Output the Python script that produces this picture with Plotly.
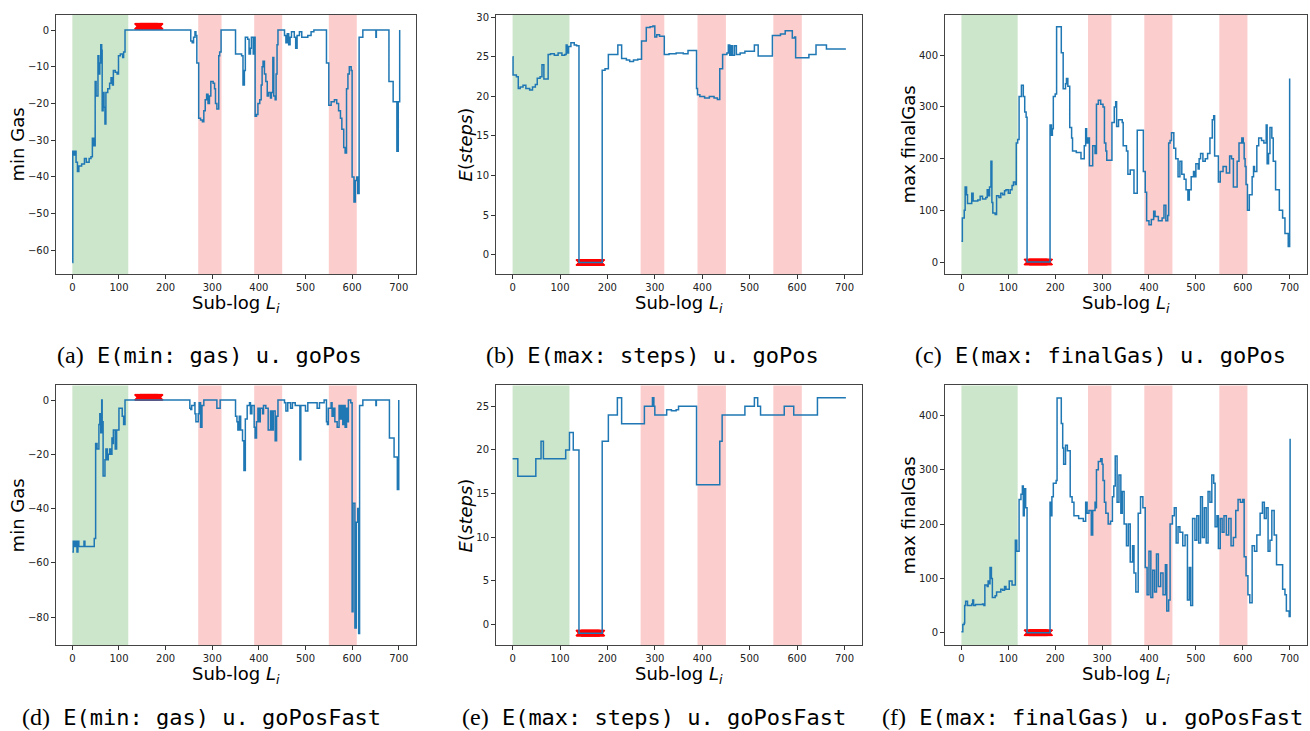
import plotly.graph_objects as go

W, H = 1310, 731

# ---------------- data ----------------
a_pts = [(0,-63.3),(1,-33),(4,-34),(6,-33),(8,-36),(11,-38.5),(14,-37),(20,-36.5),(26,-35),(30,-36),(36,-35),(40,-34.5),(43,-29.5),(46,-31.5),(49,-14),(51,-18),(55,-7),(57,-12),(59,-9),(61,-4),(63,-5.5),(64,-22),(66,-17),(68,-21),(70,-25.6),(72,-17),(76,-16),(80,-14.5),(83,-13),(86,-15),(88,-11),(92,-11.5),(96,-12),(99,-7),(103,-6.5),(108,-7.5),(110,-6),(113,0),(254,-3),(257,-3.5),(260,-2),(263,-0.5),(265,-1.5),(267,-9),(271,-24),(275,-24.5),(279,-25),(282,-22),(285,-19),(288,-17.5),(291,-20),(294,-18),(297,-14),(302,-14.5),(305,-16),(307,-20),(310,-21.5),(314,-7),(316,-6),(319,0),(350,-6.5),(360,-6.5),(363,-7),(366,-15),(369,-11),(371,-2),(376,-2.5),(379,-6.5),(382,-5),(384,-2),(388,-6.5),(390,-2),(392,-23.5),(395,-23),(398,-20),(402,-19),(405,-15),(407,-10),(409,-8.5),(412,-12),(415,-14),(418,-18),(421,-17),(425,-18.5),(427,-17),(430,-7.5),(432,-18),(435,-19),(437,-12),(439,-4),(441,0),(455,-1.5),(458,-3.5),(461,-1),(464,-4),(467,-2),(470,-0.5),(476,-2),(479,-5),(482,-1.5),(487,-0.5),(492,-2),(500,-2),(505,-1.5),(512,-0.5),(518,0),(545,-9),(550,-20.5),(555,-19.5),(562,-19),(567,-20),(571,-22),(575,-24),(578,-27),(582,-32),(585,-33.5),(588,-16),(591,-12),(594,-10),(598,-11),(600,-40),(604,-46.8),(607,-41),(610,-40),(612,-44.5),(615,-2),(623,0),(651,-2),(652,0),(679,-14),(688,-19.5),(696,-33),(699,-19.5),(702,0)]

b_pts = [(0,25),(1,22.7),(8,22.5),(12,21),(16,21.2),(22,21.4),(28,21),(36,20.8),(42,21.2),(48,21.5),(52,22.3),(58,22.5),(62,24),(66,22.2),(75,25.3),(80,25.4),(88,25.2),(96,25.5),(104,25.2),(110,25.3),(113,26.5),(115,25.5),(118,26.3),(123,26.8),(130,26.5),(135,26.4),(140,-1),(189,23.3),(195,23.5),(202,25.3),(210,25.3),(222,26.5),(230,24.8),(240,24.6),(247,24.4),(255,24.6),(264,24.7),(272,27),(282,28.7),(290,28.8),(296,28.9),(300,27.5),(304,27.8),(310,27.6),(320,25.3),(330,25.4),(345,25.5),(360,25.4),(370,25.8),(388,21),(390,20.2),(395,20),(405,19.8),(415,20),(425,19.8),(432,19.6),(437,23.5),(443,25.3),(452,25.5),(455,26.5),(458,25.2),(461,26.4),(464,25.2),(468,26.4),(472,25.3),(480,25.5),(490,25.7),(505,25.7),(510,26.5),(518,25.1),(548,27.7),(565,27.9),(575,28.3),(590,27.4),(595,27.5),(597,24.9),(615,24.9),(625,25.3),(640,26.5),(662,26.0),(703,26.0)]

c_pts = [(0,40),(2,85),(6,100),(8,145),(11,130),(13,113),(22,133),(25,118),(35,120),(40,127),(45,122),(52,125),(55,140),(57,128),(60,145),(63,195),(65,115),(67,95),(72,92),(75,128),(80,125),(84,133),(88,130),(92,138),(95,140),(100,133),(104,140),(108,148),(111,155),(115,150),(117,230),(120,237),(123,320),(128,342),(132,320),(135,290),(138,280),(140,0),(189,265),(192,245),(194,258),(196,320),(200,325),(203,455),(213,405),(217,335),(222,345),(224,355),(227,340),(231,260),(235,240),(237,215),(245,212),(255,200),(262,225),(265,258),(267,230),(270,240),(273,186),(280,225),(285,210),(288,305),(292,313),(297,305),(302,300),(305,230),(308,215),(310,197),(321,270),(326,300),(329,310),(331,262),(335,275),(343,270),(345,225),(352,215),(355,170),(360,178),(368,133),(375,255),(385,255),(388,175),(392,135),(395,80),(400,72),(405,82),(410,98),(413,88),(420,80),(428,85),(432,110),(436,80),(440,90),(442,230),(445,235),(448,250),(453,220),(457,200),(462,165),(466,195),(470,170),(475,160),(479,140),(483,120),(486,140),(490,165),(495,175),(498,165),(500,190),(505,180),(507,200),(510,210),(515,195),(520,200),(525,210),(530,240),(535,275),(538,283),(540,205),(548,155),(552,175),(558,185),(565,172),(572,205),(576,200),(580,145),(588,195),(592,230),(598,240),(601,230),(603,200),(605,185),(607,150),(610,100),(614,130),(620,165),(623,185),(625,175),(630,225),(634,240),(640,235),(645,230),(650,265),(652,190),(655,210),(658,260),(662,240),(665,195),(670,140),(678,100),(685,85),(690,55),(697,30),(700,355)]

d_pts = [(0,-56),(2,-52),(5,-54),(7,-52),(10,-56),(12,-52),(14,-54),(25,-52),(27,-54),(47,-51),(50,-16),(53,-18),(57,-9),(59,-5),(61,-12),(63,0),(64,-8),(66,-28),(70,-22),(72,-18),(75,-22),(77,-20),(80,-18),(82,-20),(85,-14),(87,-16),(88,-11),(92,-18),(95,-11),(100,-3),(105,-3),(107,-6),(110,-9),(113,0),(252,-3),(254,-3.5),(256,-2),(262,-1),(263,-5),(265,-8),(270,-5),(272,-1),(275,-10),(278,-2),(282,0),(310,-3),(317,0),(350,-6),(353,-8),(355,-11),(358,-6),(361,-11),(365,-15),(368,-26),(371,-7),(375,-2),(380,-1),(382,-5),(385,-2),(390,-10),(392,-14),(395,-8),(398,-3),(400,-8),(403,-3),(408,-5),(410,-2),(415,-3),(420,-11),(425,-4),(428,-11),(431,-4),(435,-15),(438,-6),(441,0),(455,-1),(458,-4),(462,-1),(468,-3),(472,-1),(478,-2),(488,-22),(490,-2),(498,-2),(500,-4),(505,-1),(520,-1),(525,-3),(530,-1),(540,0),(545,-8),(547,-9),(549,-3),(555,-1),(557,-6),(560,-3),(563,-8),(568,-10),(572,-2),(575,-7),(578,-2),(580,-9),(583,-2),(585,-10),(588,-3),(590,-8),(592,0),(597,-1),(600,-78),(602,-38),(606,-84),(609,-45),(612,-40),(614,-86),(616,-2),(623,0),(651,-2),(652,0),(680,-14),(690,-21),(697,-33),(700,0)]

e_pts = [(0,19),(11,17),(49,19),(60,21),(65,19),(112,20),(120,22),(128,20),(140,-1),(189,21),(202,24),(221,26),(230,23),(278,25),(295,26),(298,25),(300,24),(325,24.6),(335,24.5),(345,24.6),(350,25),(388,16),(437,21),(442,24),(490,25),(510,26),(517,25),(523,24),(573,25),(593,24),(643,26),(703,26)]

f_pts = [(0,2),(3,15),(6,18),(7,50),(9,58),(13,50),(20,50),(22,53),(24,60),(26,50),(30,52),(40,52),(45,53),(48,50),(50,88),(55,85),(57,95),(58,90),(61,120),(64,100),(66,65),(72,68),(75,75),(80,75),(84,80),(88,78),(92,85),(95,80),(102,95),(108,88),(115,170),(118,150),(123,245),(127,255),(130,270),(132,215),(134,265),(137,230),(140,0),(189,240),(191,215),(193,250),(196,275),(202,280),(204,432),(213,385),(216,340),(218,310),(222,345),(226,335),(232,250),(236,240),(240,215),(250,210),(260,205),(265,240),(268,220),(272,225),(277,180),(280,225),(285,240),(286,230),(288,300),(292,315),(297,320),(300,310),(302,280),(305,240),(308,220),(313,200),(318,205),(322,250),(325,270),(328,325),(332,240),(336,290),(340,220),(343,260),(347,200),(352,160),(356,200),(360,130),(365,160),(368,110),(372,75),(377,220),(382,250),(387,230),(392,120),(396,70),(400,150),(404,65),(408,115),(412,75),(416,145),(420,85),(425,110),(430,70),(435,125),(438,40),(442,60),(445,200),(450,215),(454,230),(458,165),(462,195),(466,185),(472,160),(477,180),(482,60),(486,120),(489,50),(493,210),(498,170),(502,215),(506,165),(510,250),(514,175),(518,230),(522,165),(526,260),(530,240),(534,290),(538,275),(541,195),(545,215),(548,155),(552,210),(556,185),(560,215),(565,180),(570,210),(575,160),(580,175),(585,225),(590,245),(595,240),(600,245),(603,140),(607,105),(611,70),(615,55),(620,160),(625,150),(630,180),(637,220),(642,240),(646,210),(650,230),(654,150),(658,170),(662,225),(667,180),(672,125),(680,125),(685,80),(690,70),(693,40),(699,30),(701,357)]

# sub-logs flagged with the red marker band
flag_first, flag_last = 140, 188
flag_levels = [1.0, -1.0, 0.0, 1.0, -1.0, 0.0]

green_span = (0, 120)
red_spans = [(270, 320), (390, 450), (550, 610)]

x_ticks = [0, 100, 200, 300, 400, 500, 600, 700]
y_ticks = [
    [0, -10, -20, -30, -40, -50, -60],
    [0, 5, 10, 15, 20, 25, 30],
    [0, 100, 200, 300, 400],
    [0, -20, -40, -60, -80],
    [0, 5, 10, 15, 20, 25],
    [0, 100, 200, 300, 400],
]
y_ranges = [[-66.4, 4.1], [-2.44, 30.3], [-23, 478], [-90.4, 5.4], [-2.4, 27.4], [-23.2, 455]]
y_titles = ["min Gas", "<i>E</i>(<i>steps</i>)", "max finalGas",
            "min Gas", "<i>E</i>(<i>steps</i>)", "max finalGas"]
cap_labels = ["(a)", "(b)", "(c)", "(d)", "(e)", "(f)"]
cap_texts = ["E(min: gas) u. goPos", "E(max: steps) u. goPos", "E(max: finalGas) u. goPos",
             "E(min: gas) u. goPosFast", "E(max: steps) u. goPosFast", "E(max: finalGas) u. goPosFast"]
x_title = "Sub-log <i>L</i><sub><i>i</i></sub>"

series = [a_pts, b_pts, c_pts, d_pts, e_pts, f_pts]

# ---------------- layout geometry (pixels) ----------------
cols = [(56, 416), (496, 862), (945, 1307)]
rows = [(12, 272), (384, 645)]
ytitle_x = [17, 465, 908]
xtitle_y = [302, 675]
cap_y = [353, 717]
cap_x = [55, 484, 913, 20, 460, 880]

BLUE = "#1f77b4"
fig = go.Figure()
layout = dict(width=W, height=H, margin=dict(l=0, r=0, t=0, b=0),
              paper_bgcolor="white", plot_bgcolor="white", showlegend=False,
              shapes=[], annotations=[])

flag_x = list(range(flag_first, flag_last + 1))

for i, pts in enumerate(series):
    r, c = divmod(i, 3)
    n = "" if i == 0 else str(i + 1)
    xa, ya = "x" + n, "y" + n
    x0p, x1p = cols[c]
    t, b = rows[r]
    layout["xaxis" + n] = dict(
        domain=[x0p / W, x1p / W], anchor=ya, range=[-35, 737],
        tickvals=x_ticks, ticks="outside", ticklen=4, tickcolor="#333",
        showline=True, linecolor="#444", linewidth=1, mirror=True,
        showgrid=False, zeroline=False,
        tickfont=dict(family="DejaVu Sans", size=10, color="#222"))
    layout["yaxis" + n] = dict(
        domain=[1 - b / H, 1 - t / H], anchor=xa, range=y_ranges[i],
        tickvals=y_ticks[i], ticks="outside", ticklen=4, tickcolor="#333",
        showline=True, linecolor="#444", linewidth=1, mirror=True,
        showgrid=False, zeroline=False,
        tickfont=dict(family="DejaVu Sans", size=10, color="#222"))
    # shaded regions
    layout["shapes"].append(dict(type="rect", xref=xa, yref=ya + " domain",
                                 x0=green_span[0], x1=green_span[1], y0=0, y1=1,
                                 fillcolor="rgba(0,128,0,0.2)", line=dict(width=0), layer="below"))
    for s0, s1 in red_spans:
        layout["shapes"].append(dict(type="rect", xref=xa, yref=ya + " domain",
                                     x0=s0, x1=s1, y0=0, y1=1,
                                     fillcolor="rgba(240,60,60,0.26)", line=dict(width=0), layer="below"))
    # red flag markers
    fig.add_trace(go.Scatter(x=flag_x, y=[flag_levels[i]] * len(flag_x), mode="markers",
                             marker=dict(symbol="x-thin", size=6, color="red",
                                         line=dict(width=1.6, color="red")),
                             xaxis=xa, yaxis=ya, hoverinfo="skip"))
    xs = [p[0] for p in pts]
    ys = [p[1] for p in pts]
    fig.add_trace(go.Scatter(x=xs, y=ys, mode="lines", line=dict(color=BLUE, width=1.5, shape="hv"),
                             xaxis=xa, yaxis=ya))
    # axis titles
    layout["annotations"].append(dict(
        text=y_titles[i], xref="paper", yref="paper", x=ytitle_x[c] / W, y=1 - (t + b) / 2 / H,
        textangle=-90, showarrow=False, xanchor="center", yanchor="middle",
        font=dict(family="DejaVu Sans", size=18, color="black")))
    layout["annotations"].append(dict(
        text=x_title, xref="paper", yref="paper", x=(x0p + x1p) / 2 / W, y=1 - xtitle_y[r] / H,
        showarrow=False, xanchor="center", yanchor="middle",
        font=dict(family="DejaVu Sans", size=18, color="black")))
    # caption
    layout["annotations"].append(dict(
        text='<span style="font-family:\'Liberation Serif\';font-size:24px">' + cap_labels[i] + '</span> ' + cap_texts[i],
        xref="paper", yref="paper", x=cap_x[i] / W, y=1 - cap_y[r] / H,
        showarrow=False, xanchor="left", yanchor="middle",
        font=dict(family="DejaVu Sans Mono", size=22, color="black")))

fig.update_layout(**layout)
fig.write_html("out.html")
